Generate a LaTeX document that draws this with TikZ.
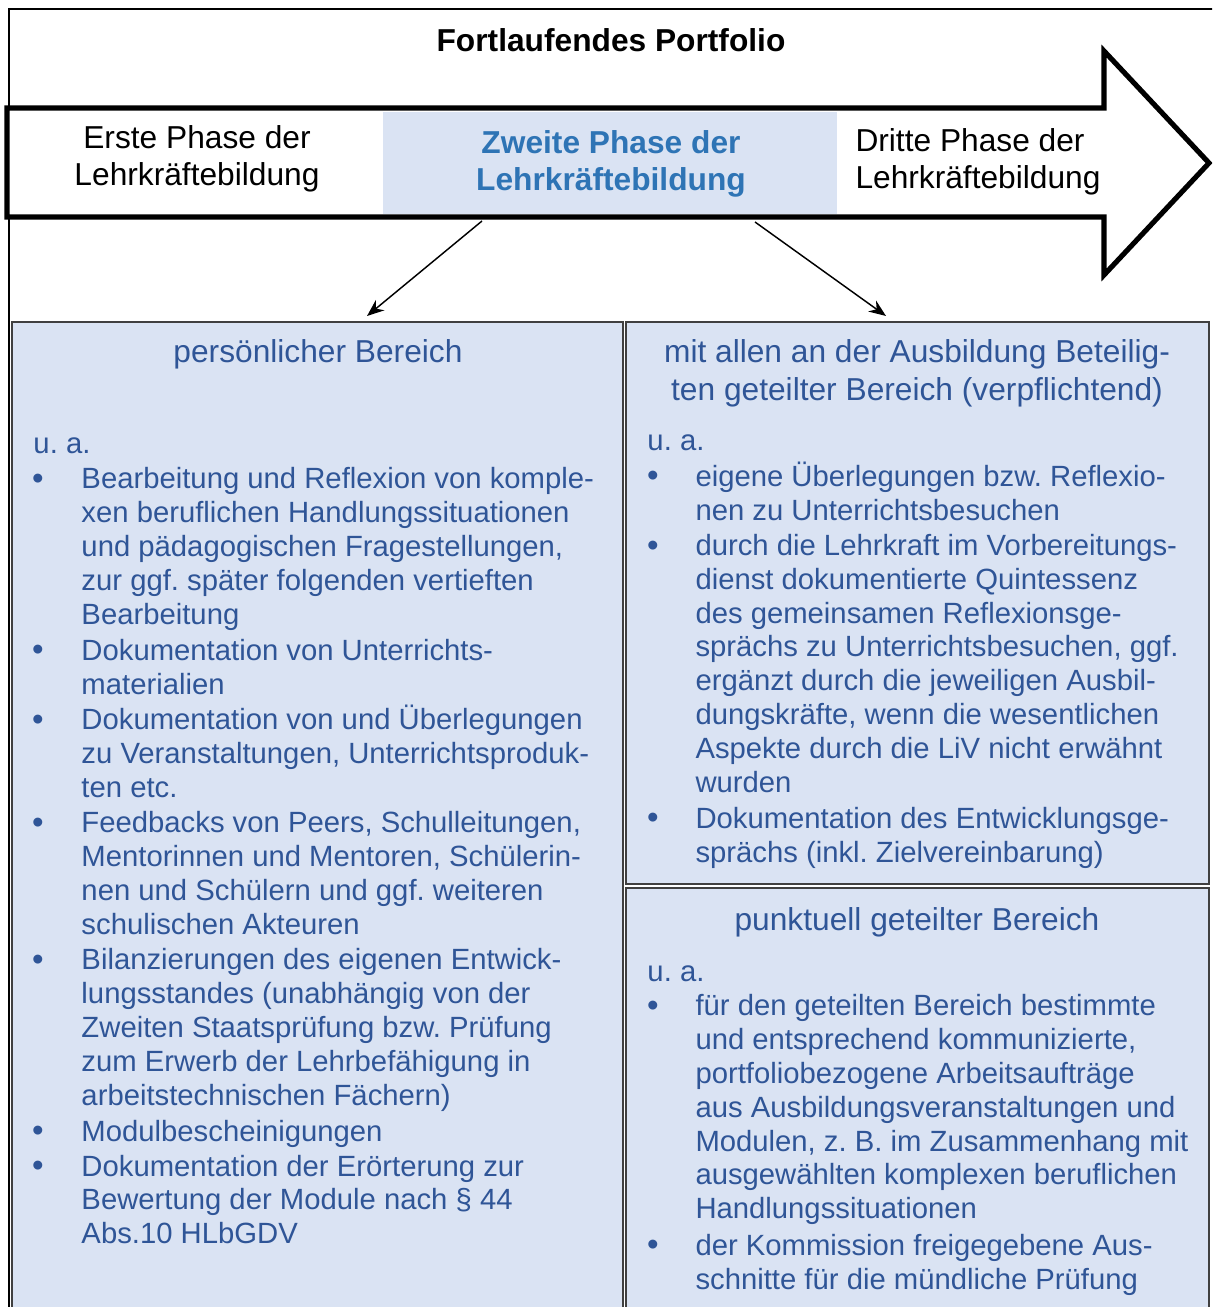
\documentclass[tikz,border=0pt]{standalone}
\usepackage{fontspec}
\setmainfont{Liberation Sans}
\usetikzlibrary{arrows.meta,positioning}
\definecolor{boxfill}{HTML}{DAE3F3}
\definecolor{boxtext}{HTML}{2F5597}
\definecolor{phaseblue}{HTML}{2E74B5}
\frenchspacing
\tikzset{
  frame/.style={draw=black,line width=0.8pt},
  phasearrow/.style={draw=black,line width=2.1pt,line join=miter},
  area/.style={draw=black!75,line width=0.8pt,fill=boxfill},
  headline/.style={font={\fontsize{13}{15.4}\selectfont\bfseries},anchor=base,inner sep=0pt},
  phase/.style={font={\fontsize{13}{15.4}\selectfont},align=center,anchor=base,inner sep=0pt},
  areatitle/.style={font={\fontsize{13}{15.2}\selectfont},text=boxtext,align=center,anchor=base,inner sep=0pt},
  entry/.style={font={\fontsize{12}{13.84}\selectfont},text=boxtext,align=left,anchor=base west,inner sep=0pt},
  dot/.style={font={\fontsize{13.5}{13.84}\selectfont},text=boxtext,anchor=base,inner sep=0pt}
}

\begin{document}
\begin{tikzpicture}[x=0.41pt,y=-0.41pt,>=Stealth]
  \useasboundingbox (0,0) rectangle (1212,1307);
  \clip (0,0) rectangle (1212,1307);

  % outer frame and heading
  \draw[frame] (9,1340) -- (9,9) -- (1240,9);
  \node[headline] (portfolio) at (611,52) {Fortlaufendes Portfolio};

  % the big arrow with the three phases
  \fill[white] (7,108) -- (1104,108) -- (1104,51) -- (1209,163) -- (1104,275) -- (1104,217) -- (7,217) -- cycle;
  \fill[boxfill] (383,112) rectangle (837,214);
  \draw[phasearrow] (7,108) -- (1104,108) -- (1104,51) -- (1209,163) -- (1104,275) -- (1104,217) -- (7,217) -- cycle;
  % multi-line nodes sit on the baseline of their last line
  \node[phase] (phaseone) at (197,186) {Erste Phase der\\Lehrkräftebildung};
  \node[phase,text=phaseblue,font={\fontsize{13}{15.4}\selectfont\bfseries}] (phasetwo) at (611,191) {Zweite Phase der\\Lehrkräftebildung};
  \node[phase,align=left,anchor=base west] (phasethree) at (855,189) {Dritte Phase der\\Lehrkräftebildung};

  \coordinate (fromleft) at (482,221);
  \coordinate (toleft) at (367,316);
  \coordinate (fromright) at (755,222);
  \coordinate (toright) at (886,316);
  \draw[-{Stealth[length=7pt,width=5.5pt]},line width=0.6pt] (fromleft) -- (toleft);
  \draw[-{Stealth[length=7pt,width=5.5pt]},line width=0.6pt] (fromright) -- (toright);

  % areas
  \draw[area] (12,322) rectangle (623,1340);
  \draw[area] (626,322) rectangle (1209,884);
  \draw[area] (626,888) rectangle (1209,1340);

  % persoenlicher Bereich
  \node[areatitle] (perstitle) at (318,363) {persönlicher Bereich};
  \node[entry] (persua) at (33,453) {u. a.};
  \node[dot] (persdot1) at (38,489) {\textbullet};
  \node[entry] (pers1) at (81,624) {Bearbeitung und Reflexion von komple-\\xen beruflichen Handlungssituationen\\und pädagogischen Fragestellungen,\\zur ggf. später folgenden vertieften\\Bearbeitung};
  \node[dot] (persdot2) at (38,660) {\textbullet};
  \node[entry] (pers2) at (81,694) {Dokumentation von Unterrichts-\\materialien};
  \node[dot] (persdot3) at (38,730) {\textbullet};
  \node[entry] (pers3) at (81,797.5) {Dokumentation von und Überlegungen\\zu Veranstaltungen, Unterrichtsproduk-\\ten etc.};
  \node[dot] (persdot4) at (38,833) {\textbullet};
  \node[entry] (pers4) at (81,934) {Feedbacks von Peers, Schulleitungen,\\Mentorinnen und Mentoren, Schülerin-\\nen und Schülern und ggf. weiteren\\schulischen Akteuren};
  \node[dot] (persdot5) at (38,970) {\textbullet};
  \node[entry] (pers5) at (81,1105) {Bilanzierungen des eigenen Entwick-\\lungsstandes (unabhängig von der\\Zweiten Staatsprüfung bzw. Prüfung\\zum Erwerb der Lehrbefähigung in\\arbeitstechnischen Fächern)};
  \node[dot] (persdot6) at (38,1141) {\textbullet};
  \node[entry] (pers6) at (81,1141) {Modulbescheinigungen};
  \node[dot] (persdot7) at (38,1176) {\textbullet};
  \node[entry] (pers7) at (81,1243.5) {Dokumentation der Erörterung zur\\Bewertung der Module nach § 44\\Abs.10 HLbGDV};

  % geteilter Bereich (verpflichtend)
  \node[areatitle] (sharedtitle) at (917,400) {mit allen an der Ausbildung Beteilig-\\ten geteilter Bereich (verpflichtend)};
  \node[entry] (sharedua) at (647,450) {u. a.};
  \node[dot] (shareddot1) at (653,486) {\textbullet};
  \node[entry] (shared1) at (695,520) {eigene Überlegungen bzw. Reflexio-\\nen zu Unterrichtsbesuchen};
  \node[dot] (shareddot2) at (653,556) {\textbullet};
  \node[entry] (shared2) at (695,792) {durch die Lehrkraft im Vorbereitungs-\\dienst dokumentierte Quintessenz\\des gemeinsamen Reflexionsge-\\sprächs zu Unterrichtsbesuchen, ggf.\\ergänzt durch die jeweiligen Ausbil-\\dungskräfte, wenn die wesentlichen\\Aspekte durch die LiV nicht erwähnt\\wurden};
  \node[dot] (shareddot3) at (653,828) {\textbullet};
  \node[entry] (shared3) at (695,862) {Dokumentation des Entwicklungsge-\\sprächs (inkl. Zielvereinbarung)};

  % punktuell geteilter Bereich
  \node[areatitle] (pointtitle) at (917,930) {punktuell geteilter Bereich};
  \node[entry] (pointua) at (647,981) {u. a.};
  \node[dot] (pointdot1) at (653,1016) {\textbullet};
  \node[entry] (point1) at (695,1218.5) {für den geteilten Bereich bestimmte\\und entsprechend kommunizierte,\\portfoliobezogene Arbeitsaufträge\\aus Ausbildungsveranstaltungen und\\Modulen, z. B. im Zusammenhang mit\\ausgewählten komplexen beruflichen\\Handlungssituationen};
  \node[dot] (pointdot2) at (653,1255) {\textbullet};
  \node[entry] (point2) at (695,1289) {der Kommission freigegebene Aus-\\schnitte für die mündliche Prüfung};
\end{tikzpicture}
\end{document}
